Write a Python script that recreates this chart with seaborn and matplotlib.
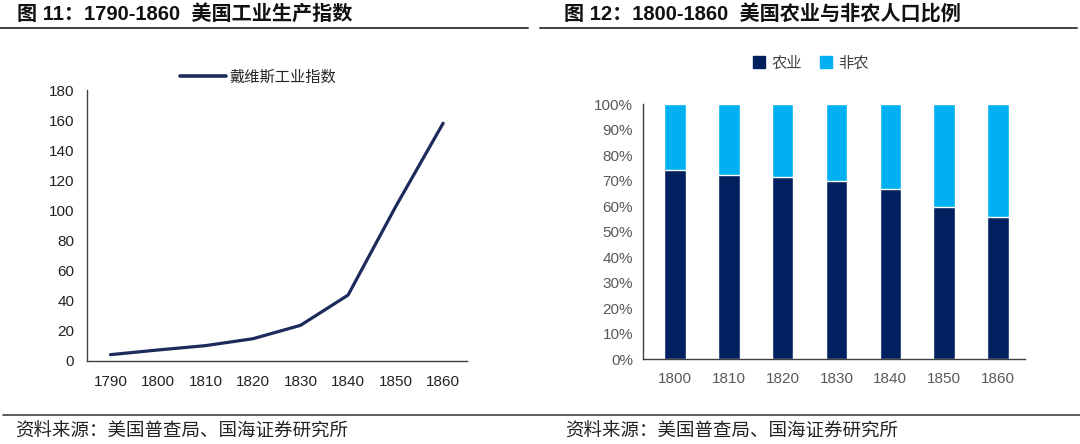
import numpy as np
import pandas as pd
import matplotlib
matplotlib.use('Agg')
import matplotlib.pyplot as plt
import matplotlib.ticker as mtick
from matplotlib.lines import Line2D
from matplotlib.patches import Patch
import seaborn as sns

# data
ind_years = ['1790', '1800', '1810', '1820', '1830', '1840', '1850', '1860']
davis_index = [4.2, 7.3, 10.2, 14.8, 23.7, 43.8, 102.5, 158]

pop_years = ['1800', '1810', '1820', '1830', '1840', '1850', '1860']
farm_share = [0.744, 0.722, 0.714, 0.698, 0.669, 0.596, 0.558]

sns.set_style('white')
plt.rcParams['font.family'] = ['Liberation Sans', 'Noto Sans CJK SC', 'DejaVu Sans']
plt.rcParams['axes.unicode_minus'] = False
CJK = ['Noto Sans CJK SC', 'DejaVu Sans']

NAVY_LINE = '#1c2a5c'
NAVY = '#002060'
SKY = '#00b0f0'
AXC = '#404040'

fig = plt.figure(figsize=(10.8, 4.44), dpi=100)

# ---- left panel: industrial index line ----
ax1 = fig.add_axes([0.0803, 0.187, 0.352, 0.610])
df1 = pd.DataFrame({'year': ind_years, 'index': davis_index})
sns.lineplot(data=df1, x='year', y='index', ax=ax1, color=NAVY_LINE, linewidth=2.3)
ax1.set_xlim(-0.5, len(ind_years) - 0.5)
ax1.set_ylim(0, 180)
ax1.set_yticks(range(0, 181, 20))
ax1.set_xticks(range(len(ind_years)))
ax1.set_xticklabels(ind_years)
ax1.set_xticks(np.arange(-0.5, len(ind_years), 1), minor=True)
ax1.tick_params(axis='x', which='major', length=0, pad=10, labelsize=11, colors='#222222')
ax1.tick_params(axis='x', which='minor', length=5, direction='out', color=AXC, width=1)
ax1.tick_params(axis='y', length=5, direction='out', color=AXC, width=1, labelsize=11,
                labelcolor='#222222', pad=4)
ax1.set_xlabel('')
ax1.set_ylabel('')
for s in ['top', 'right']:
    ax1.spines[s].set_visible(False)
for s in ['left', 'bottom']:
    ax1.spines[s].set_color(AXC)
    ax1.spines[s].set_linewidth(1)
ax1.legend(handles=[Line2D([], [], color=NAVY_LINE, lw=2.6, label='戴维斯工业指数')],
           loc='center', bbox_to_anchor=(0.239, 0.827), bbox_transform=fig.transFigure,
           frameon=False, handlelength=3.0, handletextpad=0.2,
           prop={'family': CJK, 'size': 11})

# ---- right panel: farm vs non-farm stacked bars ----
ax2 = fig.add_axes([0.595, 0.1908, 0.354, 0.574])
df2 = pd.DataFrame({'year': pop_years, 'farm': farm_share, 'total': [1.0] * len(pop_years)})
sns.barplot(data=df2, x='year', y='total', ax=ax2, color=SKY, width=0.4, saturation=1)
sns.barplot(data=df2, x='year', y='farm', ax=ax2, color=NAVY, width=0.4, saturation=1)
ax2.set_xlim(-0.6, len(pop_years) - 0.5)
ax2.set_ylim(0, 1)
ax2.set_yticks(np.arange(0, 1.01, 0.1))
ax2.yaxis.set_major_formatter(mtick.PercentFormatter(1.0, decimals=0))
ax2.set_xticks(np.arange(-0.5, len(pop_years), 1), minor=True)
ax2.tick_params(axis='x', which='major', length=0, pad=9, labelsize=11, colors='#595959')
ax2.tick_params(axis='x', which='minor', length=5, direction='out', color=AXC, width=1)
ax2.tick_params(axis='y', length=4, direction='out', color=AXC, width=1, labelsize=11,
                labelcolor='#595959', pad=3)
ax2.set_xlabel('')
ax2.set_ylabel('')
for s in ['top', 'right']:
    ax2.spines[s].set_visible(False)
for s in ['left', 'bottom']:
    ax2.spines[s].set_color(AXC)
    ax2.spines[s].set_linewidth(1)
ax2.legend(handles=[Patch(color=NAVY, label='农业'), Patch(color=SKY, label='非农')],
           loc='center', bbox_to_anchor=(0.751, 0.858), bbox_transform=fig.transFigure,
           ncol=2, frameon=False, handlelength=0.8, handleheight=0.8,
           handletextpad=0.4, columnspacing=1.2, labelcolor='#404040',
           prop={'family': CJK, 'size': 11})

# ---- titles, rules and source notes ----
fig.text(0.0155, 0.968, '图 11：1790-1860  美国工业生产指数', fontsize=14.5,
         fontweight='bold', va='center', ha='left', color='#111111')
fig.text(0.522, 0.968, '图 12：1800-1860  美国农业与非农人口比例', fontsize=14.5,
         fontweight='bold', va='center', ha='left', color='#111111')
fig.add_artist(Line2D([0.0, 0.489], [0.938, 0.938], color=AXC, lw=1.4))
fig.add_artist(Line2D([0.5, 0.997], [0.938, 0.938], color=AXC, lw=1.4))
fig.add_artist(Line2D([0.003, 1.0], [0.066, 0.066], color=AXC, lw=1.2))
fig.text(0.014, 0.027, '资料来源：美国普查局、国海证券研究所', fontsize=13.3,
         va='center', ha='left', color='#222222', family=CJK)
fig.text(0.523, 0.027, '资料来源：美国普查局、国海证券研究所', fontsize=13.3,
         va='center', ha='left', color='#222222', family=CJK)

fig.savefig('out.png', dpi=100)
